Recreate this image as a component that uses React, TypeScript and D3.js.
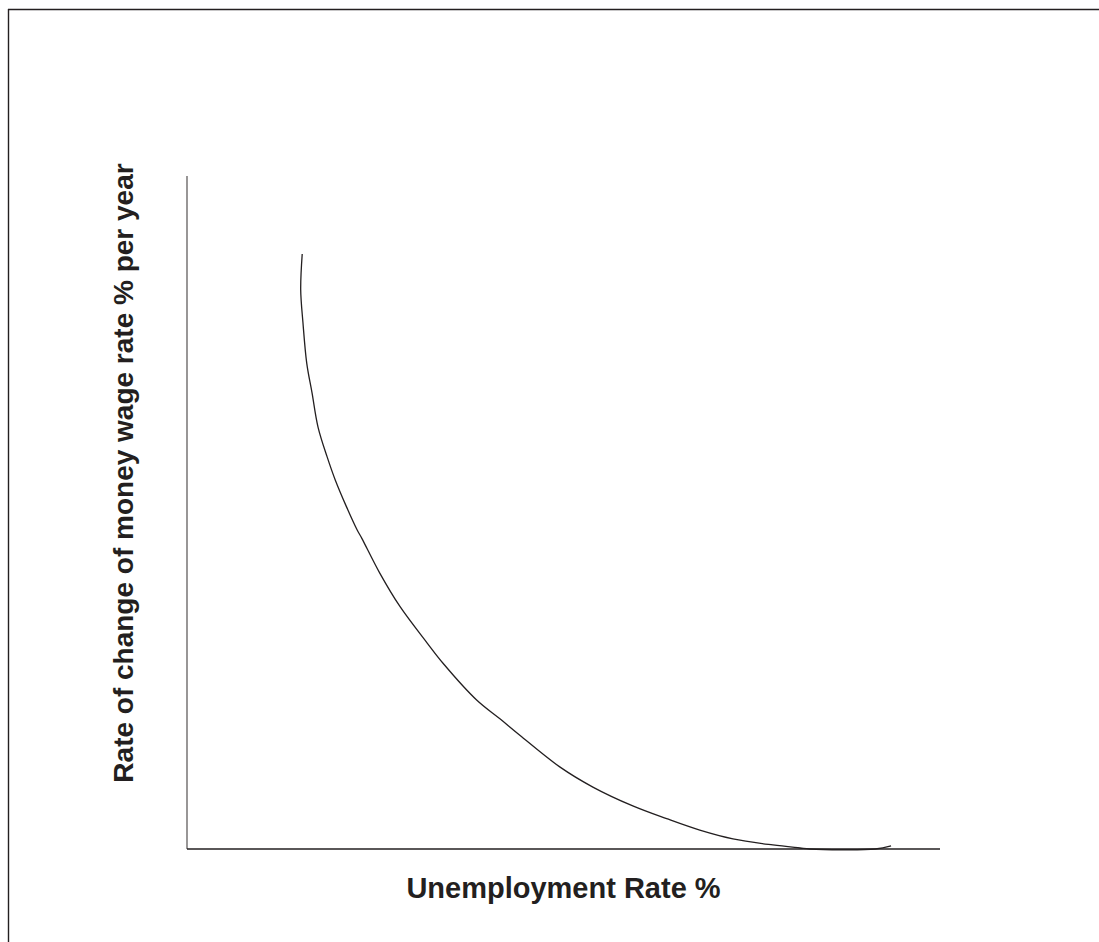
import React from "react";
import * as d3 from "d3";

// Phillips curve (arbitrary 0-100 units on both axes)
const unemployment = [15.3, 15.1, 15.4, 15.9, 16.6, 17.4, 18.6, 19.7, 21.2, 22.6, 23.2, 25.6, 28.3, 31.9, 34.0, 38.5, 41.6, 44.2, 49.5, 53.9, 59.2, 63.7, 68.1, 72.5, 77.8, 81.4, 82.7, 91.4, 93.5];
const wageChange = [88.4, 83.1, 78.2, 72.2, 67.8, 62.7, 58.3, 54.8, 50.8, 47.4, 46.2, 41.0, 36.0, 30.6, 27.6, 22.1, 19.3, 16.9, 12.2, 9.2, 6.4, 4.5, 2.8, 1.5, 0.6, 0.15, 0, 0, 0.45];

const xTitle = "Unemployment Rate %";
const yTitle = "Rate of change of money wage rate % per year";

const W = 1099;
const H = 942;
const plot = { left: 187, right: 940, top: 176, bottom: 849 };
const ink = "#231f20";
const font = "'Liberation Sans', Arial, Helvetica, sans-serif";

export default function App() {
  const x = d3.scaleLinear().domain([0, 100]).range([plot.left, plot.right]);
  const y = d3.scaleLinear().domain([0, 100]).range([plot.bottom, plot.top]);
  const pts: [number, number][] = unemployment.map((u, i) => [u, wageChange[i]]);
  const line = d3
    .line<[number, number]>()
    .x((d) => x(d[0]))
    .y((d) => y(d[1]))
    .curve(d3.curveCatmullRom.alpha(0.5));

  const [x0, x1] = x.range();
  const [y0, y1] = y.range();

  return (
    <svg
      width={W}
      height={H}
      viewBox={`0 0 ${W} ${H}`}
      style={{ position: "absolute", left: 0, top: 0, background: "#fff" }}
    >
      <rect x={0} y={0} width={W} height={H} fill="#fff" />
      {/* frame */}
      <line x1={8} y1={9.5} x2={W} y2={9.5} stroke={ink} strokeWidth={1.4} />
      <line x1={8.5} y1={9} x2={8.5} y2={H} stroke={ink} strokeWidth={1.4} />
      {/* axes */}
      <line x1={x0} y1={y0} x2={x1} y2={y0} stroke={ink} strokeWidth={1.3} />
      <line x1={x0} y1={y0} x2={x0} y2={y1} stroke={ink} strokeWidth={1.1} strokeOpacity={0.85} />
      {/* curve */}
      <path d={line(pts) || ""} fill="none" stroke={ink} strokeWidth={1.3} />
      {/* titles */}
      <text
        x={(x0 + x1) / 2}
        y={898}
        textAnchor="middle"
        fontFamily={font}
        fontWeight="bold"
        fontSize={29}
        fill={ink}
      >
        {xTitle}
      </text>
      <text
        transform={`translate(133, 473) rotate(-90)`}
        textAnchor="middle"
        fontFamily={font}
        fontWeight="bold"
        fontSize={28}
        fill={ink}
      >
        {yTitle}
      </text>
    </svg>
  );
}
